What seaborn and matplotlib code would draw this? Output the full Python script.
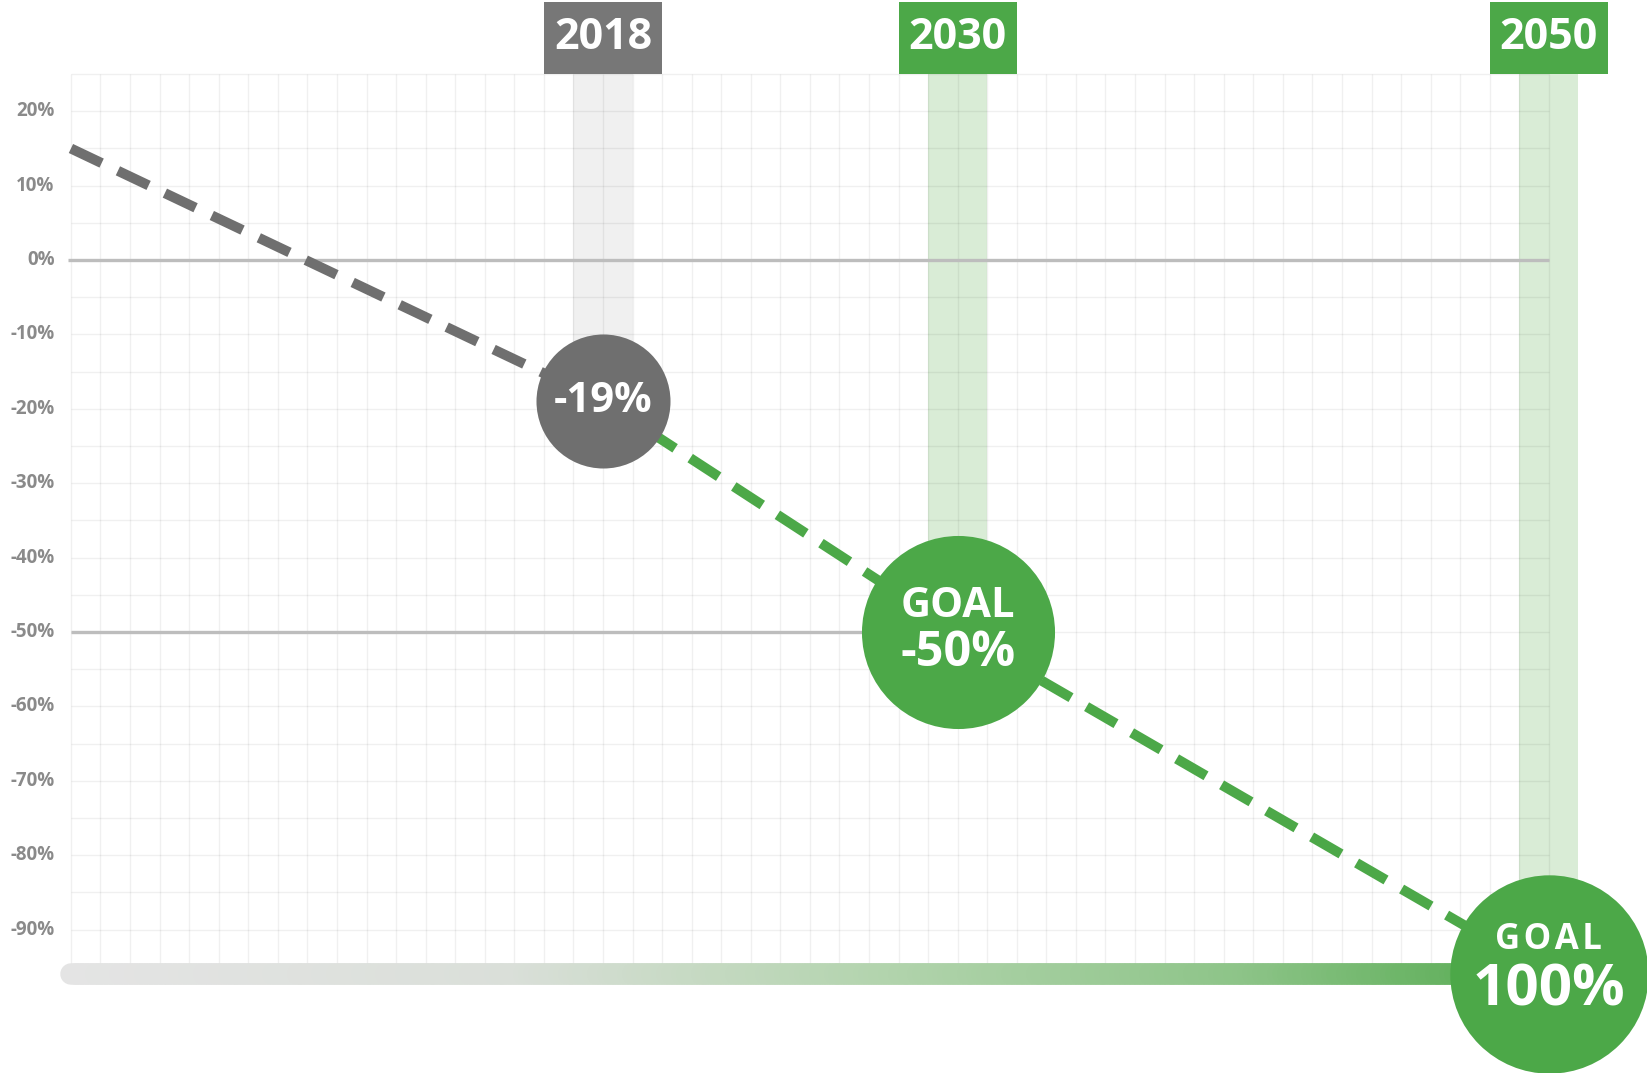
import matplotlib.pyplot as plt
import numpy as np
import pandas as pd
import seaborn as sns
from matplotlib.collections import LineCollection
from matplotlib.colors import LinearSegmentedColormap
from matplotlib.patches import Rectangle

# emission path in % (dashed lines)
past_years = [2000, 2018]
past_values = [15, -19]
goal_years = [2018, 2030, 2050]
goal_values = [-19, -50, -96]

# milestones (circles, bands and year boxes)
milestone_years = [2018, 2030, 2050]
milestone_values = [-19, -50, -96]
milestone_top = ["", "GOAL", "G\u200aO\u200aA\u200aL"]
milestone_main = ["-19%", "-50%", "100%"]

# y axis labels
ytick_values = [20, 10, 0, -10, -20, -30, -40, -50, -60, -70, -80, -90]
ytick_labels = [f"{v}%" for v in ytick_values]

first_year = 2000
last_year = 2050

grey_dark = "#6f6f6f"
grey_box = "#777777"
green = "#4ca848"
grey_band = "#f0f0f0"
green_band = "#d9ecd6"

sns.set_theme(style="white")
plt.rcParams["font.family"] = ["Open Sans", "DejaVu Sans"]

fig = plt.figure(figsize=(16.47, 10.73), dpi=100, facecolor="white")
ax = fig.add_axes([0, 0, 1, 1])
ax.set_xlim(1997.60, 2053.32)
ax.set_ylim(-109.27, 34.96)
ax.set_axis_off()

# background grid, one line per year and per 5 %
grid_top, grid_bottom = 25, -95
ax.vlines(range(first_year, last_year + 1), grid_bottom, grid_top,
          color=(0, 0, 0, 0.06), lw=1, zorder=1)
ax.hlines(range(grid_bottom, grid_top + 1, 5), first_year, last_year,
          color=(0, 0, 0, 0.06), lw=1, zorder=1)

# reference lines at 0 % and -50 %
ax.hlines(0, first_year - 0.1, last_year, color="#bdbdbd", lw=2.4, zorder=2)
ax.hlines(-50, first_year, 2030, color="#bdbdbd", lw=2.4, zorder=2)

# milestone bands and year boxes
for i, (yr, val) in enumerate(zip(milestone_years, milestone_values)):
    band = grey_band if i == 0 else green_band
    box = grey_box if i == 0 else green
    ax.add_patch(Rectangle((yr - 1, val), 2, grid_top - val, color=band,
                           lw=0, zorder=0.5))
    ax.add_patch(Rectangle((yr - 2, grid_top), 4, 9.7, color=box, lw=0,
                           zorder=5, clip_on=False))
    ax.text(yr, grid_top + 4.9, str(yr), color="white", fontsize=31,
            fontweight="bold", ha="center", va="center", zorder=6)

# y labels
for v, lab in zip(ytick_values, ytick_labels):
    ax.text(first_year - 0.55, v, lab, color="#8a8a8a", fontsize=13.5,
            fontweight="bold", ha="right", va="center")

# gradient timeline bar at the bottom
bar_y = milestone_values[-1]
cmap = LinearSegmentedColormap.from_list(
    "bar", [(0, "#e4e4e4"), (0.3, "#dadfd9"), (0.55, "#b3d4ae"),
            (0.8, "#8dc488"), (1, "#55aa50")])
xs = np.linspace(first_year, last_year, 301)
segs = [[(xs[k], bar_y), (xs[k + 1], bar_y)] for k in range(len(xs) - 1)]
lc = LineCollection(segs, colors=cmap(np.linspace(0, 1, len(segs))),
                    linewidths=15.5, capstyle="round", zorder=2.5)
ax.add_collection(lc)

# dashed emission lines
sns.lineplot(x=past_years, y=past_values, ax=ax, color=grey_dark, lw=7.2,
             linestyle=(0, (3.4, 1.8)), zorder=3)
sns.lineplot(x=goal_years, y=goal_values, ax=ax, color=green, lw=7.2,
             linestyle=(0, (3.4, 1.8)), zorder=3)

# milestone circles
circle_sizes = [9312, 19321, 20400]
for i, (yr, val) in enumerate(zip(milestone_years, milestone_values)):
    col = grey_dark if i == 0 else green
    sns.scatterplot(x=[yr], y=[val], ax=ax, s=circle_sizes[i], color=col,
                    linewidth=0, zorder=4, legend=False)

ax.text(2018, -19, milestone_main[0], color="white", fontsize=30,
        fontweight="bold", ha="center", va="center", zorder=6)
ax.text(2030, -50 + 3.5, milestone_top[1], color="white", fontsize=30,
        fontweight="bold", ha="center", va="center", zorder=6)
ax.text(2030, -50 - 2.9, milestone_main[1], color="white", fontsize=35,
        fontweight="bold", ha="center", va="center", zorder=6)
ax.text(2050, bar_y + 4.6, milestone_top[2], color="white", fontsize=25,
        fontweight="bold", ha="center", va="center", zorder=6)
ax.text(2050, bar_y - 2.2, milestone_main[2], color="white", fontsize=42,
        fontweight="bold", ha="center", va="center", zorder=6)

fig.savefig("out.png", dpi=100, facecolor="white")
